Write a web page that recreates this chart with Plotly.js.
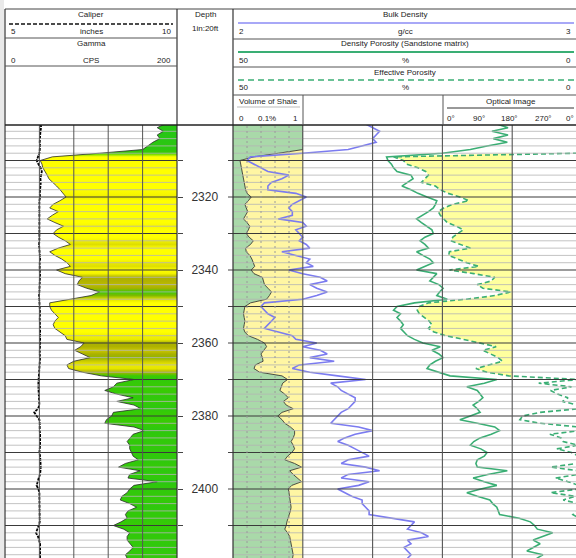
<!DOCTYPE html>
<html><head><meta charset="utf-8">
<script src="https://cdn.plot.ly/plotly-3.0.1.min.js"></script>
<style>html,body{margin:0;padding:0;background:#fff}#chart{width:576px;height:558px}</style>
</head><body><div id="chart"></div>
<script>
const DEPTH = [2300,2301,2302,2303,2304,2305,2306,2307,2308,2309,2310,2311,2312,2313,2314,2315,2316,2317,2318,2319,
2320,2321,2322,2323,2324,2325,2326,2327,2328,2329,2330,2331,2332,2333,2334,2335,2336,2337,2338,2339,
2340,2341,2342,2343,2344,2345,2346,2347,2348,2349,2350,2351,2352,2353,2354,2355,2356,2357,2358,2359,
2360,2361,2362,2363,2364,2365,2366,2367,2368,2369,2370,2371,2372,2373,2374,2375,2376,2377,2378,2379,
2380,2381,2382,2383,2384,2385,2386,2387,2388,2389,2390,2391,2392,2393,2394,2395,2396,2397,2398,2399,
2400,2401,2402,2403,2404,2405,2406,2407,2408,2409,2410,2411,2412,2413,2414,2415,2416,2417,2418,2419];

const GR = [186,177,184,177,180,172,166,160,110,55,
 41,43,44,47,49,51,56,60,64,68,
 71,64,56,52,62,55,49,58,68,60,
 56,62,70,76,62,52,58,66,72,76,
 60,70,90,86,84,95,110,100,75,52,
 52,54,58,62,58,56,58,64,70,72,
 92,88,81,90,99,80,72,74,90,112,
 150,130,126,116,130,149,130,150,158,126,
 124,118,116,150,162,149,146,142,145,145,
 147,149,155,140,132,157,145,143,177,150,
 145,142,136,134,145,153,143,140,142,135,
 126,138,145,142,142,145,149,145,140,142];

const CAL = [6.04,6.05,6.03,6.02,6.00,6.01,6.02,6.01,6.00,5.96,
 5.92,5.97,6.04,6.07,6.05,6.03,6.04,6.04,6.02,6.01,
 6.02,6.00,6.00,6.01,6.02,6.00,6.01,6.02,6.02,6.01,
 6.00,6.01,6.00,5.99,6.00,6.00,6.01,6.02,6.01,6.00,
 6.01,6.02,6.02,6.01,6.00,6.01,6.00,5.99,6.00,6.01,
 6.00,6.01,6.02,6.01,6.02,6.01,6.02,6.02,6.01,6.02,
 6.02,6.01,6.02,6.01,6.02,6.01,6.00,5.99,5.98,5.97,
 5.98,5.97,5.97,5.98,5.99,6.00,6.00,6.00,5.96,5.85,
 5.92,6.00,6.01,6.00,6.01,6.02,6.01,6.02,6.02,6.01,
 6.00,6.02,6.03,6.04,6.04,6.03,6.02,5.98,5.95,5.92,
 5.97,6.00,6.00,6.00,6.01,6.02,6.02,6.01,6.02,6.01,
 5.98,5.93,5.90,5.96,6.00,6.02,6.02,6.01,6.02,6.02];

const VSH = [1,1,1,1,1,1,1,1,0.65,0.3,
 0.10,0.11,0.12,0.12,0.14,0.15,0.16,0.17,0.18,0.20,
 0.26,0.22,0.17,0.19,0.21,0.18,0.15,0.20,0.24,0.22,
 0.19,0.23,0.29,0.25,0.18,0.19,0.24,0.27,0.29,0.31,
 0.26,0.30,0.42,0.44,0.45,0.50,0.55,0.52,0.48,0.25,
 0.17,0.16,0.15,0.16,0.17,0.16,0.15,0.17,0.22,0.35,
 0.45,0.48,0.44,0.40,0.42,0.43,0.32,0.30,0.38,0.70,
 0.78,0.71,0.69,0.67,0.74,0.79,0.72,0.76,0.86,0.70,
 0.64,0.70,0.74,0.82,0.88,0.88,0.86,0.83,0.86,0.88,
 0.84,0.78,0.74,0.88,0.98,0.81,0.86,0.92,0.98,0.84,
 0.79,0.80,0.81,0.81,0.82,0.83,0.82,0.80,0.79,0.77,
 0.76,0.74,0.78,0.81,0.82,0.83,0.83,0.84,0.86,0.85];

const RHOB = [2.38,2.40,2.42,2.41,2.40,2.41,2.37,2.33,2.20,2.05,
 2.04,2.06,2.08,2.10,2.16,2.14,2.11,2.10,2.10,2.18,
 2.21,2.19,2.17,2.16,2.17,2.17,2.13,2.20,2.21,2.18,
 2.19,2.20,2.19,2.21,2.22,2.14,2.18,2.22,2.21,2.23,
 2.16,2.20,2.25,2.27,2.22,2.24,2.27,2.24,2.20,2.09,
 2.08,2.09,2.10,2.12,2.11,2.10,2.09,2.13,2.17,2.18,
 2.24,2.20,2.25,2.27,2.22,2.29,2.19,2.17,2.22,2.30,
 2.38,2.28,2.30,2.31,2.33,2.35,2.35,2.34,2.33,2.31,
 2.30,2.29,2.28,2.36,2.40,2.35,2.32,2.30,2.33,2.35,
 2.37,2.39,2.33,2.31,2.38,2.42,2.33,2.31,2.39,2.36,
 2.30,2.32,2.34,2.37,2.37,2.38,2.39,2.39,2.46,2.52,
 2.51,2.50,2.54,2.56,2.50,2.51,2.49,2.50,2.51,2.50];

const DPHI = [12.2,10.6,12.9,10.6,12.7,10.7,13.6,16.0,20.0,28.0,
 27.8,27.3,27.0,26.5,24.5,24.2,25.0,25.8,24.5,23.5,
 22.2,20.8,21.0,21.3,22.0,22.8,23.7,23.0,22.2,21.5,
 21.3,22.5,23.2,22.5,22.0,23.7,22.8,21.8,21.3,22.5,
 23.7,20.8,21.3,21.8,20.5,19.9,20.4,20.8,19.3,24.0,
 26.5,27.0,26.0,26.5,26.0,25.6,26.0,25.5,25.0,24.0,
 22.8,20.3,21.5,20.5,19.9,21.0,21.8,22.2,20.5,18.9,
 12.2,14.0,16.5,15.0,14.6,14.2,14.8,15.6,15.0,14.6,
 16.0,17.5,15.0,12.5,11.8,13.0,14.6,15.5,16.0,14.5,
 13.6,14.0,15.0,15.2,15.0,10.7,13.5,15.6,14.0,12.2,
 14.5,16.5,15.0,13.2,12.8,12.2,12.0,11.8,9.0,7.4,
 6.8,6.4,4.2,5.5,7.0,6.0,7.0,7.9,5.6,6.5];

const PHIE = [0.3,0.5,0.2,0.4,0.3,0.5,0.2,0.4,0.5,27.0,
 25.6,25.1,23.5,22.4,22.0,22.5,23.0,21.0,20.3,19.2,
 17.5,16.2,18.5,19.8,20.6,20.3,19.8,19.3,18.0,17.0,
 17.8,18.5,18.8,17.5,16.0,19.0,19.1,17.8,16.5,14.8,
 19.0,15.5,12.5,13.0,15.0,14.2,10.2,12.5,16.5,22.0,
 23.3,23.6,23.3,22.6,21.9,21.5,22.0,21.2,19.5,17.0,
 14.5,12.3,14.2,13.0,12.0,11.4,13.5,15.2,13.6,10.5,
 0.4,6.2,1.5,4.5,3.5,2.0,2.8,0.6,0.4,6.0,
 8.5,8.9,6.0,0.5,0.3,4.6,3.0,2.7,0.6,3.6,
 1.5,0.5,0.4,0.7,4.5,0.5,0.6,3.8,2.0,0.5,
 0.4,4.5,1.0,2.7,0.5,0.3,0.6,1.3,0.4,0.3,
 0.5,0.4,0.6,0.3,0.5,0.4,0.3,0.6,0.4,0.5];

const DEPTH_LABEL_STEP = 20;
const GR_RANGE = [0, 200];
const CAL_RANGE = [5, 10];
const VSH_RANGE = [0, 1];
const PHIE_CUTOFF = 10;

// ---- geometry helpers (pixels -> paper) ----
const W = 576, H = 558;
const px = v => v / W;
const py = v => 1 - v / H;
const PLOT_TOP = 125;
const T1 = [5, 177], T2L = 233, T2R_FULL = 582; // track 2 continues past the crop
const frac = (W - T2L) / (T2R_FULL - T2L);

// GR fill colour by value
const GR_STOPS = [[0,[255,255,0]],[66,[255,255,0]],[76,[222,222,0]],[86,[178,178,0]],[98,[160,176,0]],[104,[60,204,0]],[200,[34,196,26]]];
function grColor(v){
  for(let i=1;i<GR_STOPS.length;i++){
    if(v<=GR_STOPS[i][0]){
      const a=GR_STOPS[i-1], b=GR_STOPS[i];
      const t=(v-a[0])/(b[0]-a[0]);
      const c=a[1].map((ca,k)=>Math.round(ca+(b[1][k]-ca)*t));
      return 'rgb('+c.join(',')+')';
    }
  }
  return 'rgb(34,196,26)';
}
const n = DEPTH.length;
const grScale = DEPTH.map((d,i)=>[i/(n-1), grColor(GR[i])]);

const green = '#3aae74';
const traces = [
  {x: DEPTH.map(()=>GR_RANGE[1]), y: DEPTH, xaxis:'x', yaxis:'y', mode:'lines', line:{width:0}},
  {x: GR, y: DEPTH, xaxis:'x', yaxis:'y', mode:'lines', fill:'tonextx', fillcolor:'#ffff00',
   fillgradient:{type:'vertical', colorscale: grScale, start: DEPTH[0], stop: DEPTH[n-1]},
   line:{color:'#2a2a2a', width:0.8}},
  {x: CAL, y: DEPTH, xaxis:'x2', yaxis:'y', mode:'lines', line:{color:'#000', width:1.8, dash:'3px,1px'}},
  {x: VSH, y: DEPTH, xaxis:'x3', yaxis:'y', mode:'lines', fill:'tozerox', fillcolor:'#a9d9a9', line:{width:0}},
  {x: DEPTH.map(()=>VSH_RANGE[1]), y: DEPTH, xaxis:'x3', yaxis:'y', mode:'lines', fill:'tonextx', fillcolor:'#fff6a3', line:{width:0}},
  {x: VSH, y: DEPTH, xaxis:'x3', yaxis:'y', mode:'lines', line:{color:'#222', width:0.8}},
  {x: RHOB, y: DEPTH, xaxis:'x4', yaxis:'y', mode:'lines', line:{color:'#7b7bf0', width:1.6}},
  {x: DEPTH.map(()=>PHIE_CUTOFF), y: DEPTH, xaxis:'x5', yaxis:'y', mode:'lines', line:{width:0}},
  {x: PHIE.map(v=>Math.max(v,PHIE_CUTOFF)), y: DEPTH, xaxis:'x5', yaxis:'y', mode:'lines', fill:'tonextx', fillcolor:'#ffff9e', line:{width:0}},
  {x: DPHI, y: DEPTH, xaxis:'x5', yaxis:'y', mode:'lines', line:{color:green, width:1.6}},
  {x: PHIE, y: DEPTH, xaxis:'x5', yaxis:'y', mode:'lines', line:{color:green, width:1.6, dash:'5px,3px'}}
];
traces.forEach(t=>{t.showlegend=false; t.hoverinfo='skip';});

const hid = {visible:false, showgrid:false, zeroline:false, fixedrange:true};
const yRange = [2418.9, 2300.27];
const layout = {
  width: W, height: H, margin:{l:0,r:0,t:0,b:0}, paper_bgcolor:'#fff', plot_bgcolor:'rgba(0,0,0,0)',
  showlegend:false, hovermode:false,
  font:{family:'Liberation Sans, Arial, sans-serif', color:'#222'},
  xaxis: Object.assign({}, hid, {domain:[px(T1[0]), px(T1[1])], range: GR_RANGE, anchor:'y'}),
  xaxis2: Object.assign({}, hid, {overlaying:'x', range: CAL_RANGE, anchor:'y'}),
  xaxis3: Object.assign({}, hid, {domain:[px(T2L), px(303)], range: VSH_RANGE, anchor:'y'}),
  xaxis4: Object.assign({}, hid, {domain:[px(T2L), 1], range:[2, 2 + frac], anchor:'y'}),
  xaxis5: Object.assign({}, hid, {overlaying:'x4', range:[50, 50 - 50*frac], anchor:'y'}),
  yaxis: {domain:[0, py(PLOT_TOP)], range: yRange, anchor:'free', position: px(T1[1]), side:'right',
    ticks:'outside', ticklen:5, tickwidth:1, tickcolor:'#444', tick0:2300, dtick:10, ticklabelstep: DEPTH_LABEL_STEP/10,
    tickfont:{size:12, color:'#333'}, showgrid:false, zeroline:false, showline:false, ticklabelstandoff:6, fixedrange:true},
  shapes: [], annotations: []
};

const S = layout.shapes, A = layout.annotations;
// left gray strip
S.push({type:'rect', xref:'paper', yref:'paper', x0:0, x1:px(4), y0:0, y1:1, fillcolor:'#e9e9e9', line:{width:0}, layer:'below'});

// horizontal grid lines (above fills)
for (let d = 2302; d <= 2418; d += 2) {
  const major = d % 10 === 0;
  const ln = major ? {color:'#3a3a3a', width:1.2} : {color:'rgba(180,180,180,0.8)', width:1};
  S.push({type:'line', xref:'paper', yref:'y', x0:px(T1[0]), x1:px(T1[1]), y0:d, y1:d, line:ln, layer:'above'});
  S.push({type:'line', xref:'paper', yref:'y', x0:px(T2L), x1:1, y0:d, y1:d, line:ln, layer:'above'});
  if (major) S.push({type:'line', xref:'paper', yref:'y', x0:px(T2L-5), x1:px(T2L), y0:d, y1:d, line:{color:'#444', width:1}, layer:'above'});
}
// vertical grid track 1
[40, 80, 120, 160].forEach(v => S.push({type:'line', xref:'x', yref:'paper', x0:v, x1:v, y0:0, y1:py(PLOT_TOP), line:{color:'#555', width:1}, layer:'above'}));
// vshale dashed grid
[0.2, 0.4, 0.6, 0.8].forEach(v => S.push({type:'line', xref:'x3', yref:'paper', x0:v, x1:v, y0:0, y1:py(PLOT_TOP), line:{color:'#9a9a9a', width:1, dash:'2px,3px'}, layer:'above'}));
// vertical grid track 2
[2.2, 2.4, 2.6, 2.8].forEach(v => S.push({type:'line', xref:'x4', yref:'paper', x0:v, x1:v, y0:0, y1:py(PLOT_TOP), line:{color:'#555', width:1.1}, layer:'above'}));

// frame lines (pixel coordinates)
const L = (x0,y0,x1,y1,color,width,dash) => S.push({type:'line', xref:'paper', yref:'paper', x0:px(x0), x1:px(x1), y0:py(y0), y1:py(y1), line:{color:color||'#333', width:width||1, dash:dash||'solid'}, layer:'above'});
L(5,9,576,9,'#444',1);
L(5,9,5,558,'#333',1.2);
L(177,9,177,558,'#333',1.2);
L(233,9,233,558,'#333',1.2);
L(5,125,576,125,'#222',1.6);
L(5,38,177,38,'#555',1);
L(5,66,177,66,'#555',1);
L(233,39,576,39,'#555',1);
L(233,67,576,67,'#555',1);
L(233,95,576,95,'#555',1);
L(303,95,303,125,'#555',1);
L(443,95,443,125,'#555',1);
L(237,107,300,107,'#bbb',1);
L(447,108,574,108,'#333',1);
L(9,24,173,24,'#111',1.4,'4px,2px');
L(238,23,574,23,'#8b8bf5',1.6);
L(238,52,574,52,green,2);
L(238,80,574,80,green,1.6,'6px,4px');

const T = (text,x,y,anchor,size) => A.push({text, xref:'paper', yref:'paper', x:px(x), y:py(y), xanchor:anchor||'center', yanchor:'middle', showarrow:false, font:{size:size||8, color:'#222'}});
T('Caliper',91,14); T('5',9,31,'left'); T('inches',91,31); T('10',173,31,'right');
T('Gamma',91,43); T('0',9,60,'left'); T('CPS',91,60); T('200',173,60,'right');
T('Depth',205,14); T('1in:20ft',205,29);
T('Bulk Density',405,14); T('2',237,31,'left'); T('g/cc',405,31); T('3',573,31,'right');
T('Density Porosity (Sandstone matrix)',405,44); T('50',237,60,'left'); T('%',405,60); T('0',573,60,'right');
T('Effective Porosity',405,72); T('50',237,88,'left'); T('%',405,88); T('0',573,88,'right');
T('Volume of Shale',237,101,'left'); T('0',241,118); T('0.1%',267,118); T('1',295,118);
T('Optical Image',511,101); T('0°',451,118); T('90°',479,118); T('180°',509,118); T('270°',543,118); T('0°',570,118);

Plotly.newPlot('chart', traces, layout, {staticPlot:true, displayModeBar:false});
</script></body></html>
